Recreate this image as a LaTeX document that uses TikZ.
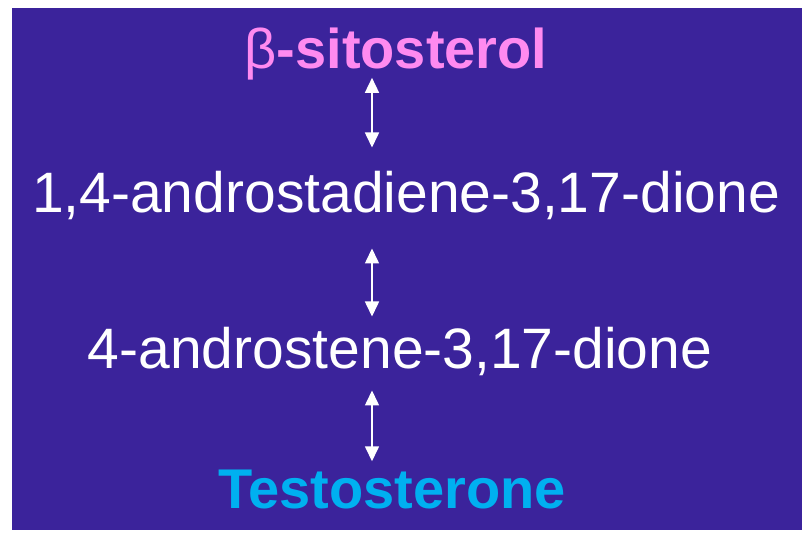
\documentclass[tikz,border=0pt]{standalone}
\usepackage{fontspec}
\setmainfont{Liberation Sans}
\usepackage{tikz}
\usetikzlibrary{arrows.meta,positioning}
\definecolor{slide}{RGB}{59,35,155}
\definecolor{sitopink}{RGB}{255,138,240}
\definecolor{testoblue}{RGB}{0,176,240}
\tikzset{
  cmpd/.style={inner sep=0pt, anchor=base, white, font=\fontsize{57}{60}\selectfont},
  key/.style={font=\fontsize{56}{60}\selectfont\bfseries},
  biarr/.style={white, line width=1.6pt, {Triangle[width=14pt,length=15pt]}-{Triangle[width=14pt,length=15pt]}}
}

\begin{document}
\begin{tikzpicture}[x=1pt,y=-1pt]
  \useasboundingbox (0,0) rectangle (812,538);
  \fill[slide] (12,8) rectangle (802,530);
  % compounds, top to bottom
  \node[cmpd,key,sitopink] (sito)  at (396,68)  {{\mdseries β}-sitosterol};
  \node[cmpd]              (adien) at (406,212) {1,4-androstadiene-3,17-dione};
  \node[cmpd]              (aene)  at (400,368) {4-androstene-3,17-dione};
  \node[cmpd,key,testoblue] (testo) at (392,508) {Testosterone};
  % arrows
  \coordinate (ax) at (372,0);
  \draw[biarr, shorten <=-2pt, shorten >=23pt] (sito.south -| ax) -- (adien.north -| ax);
  \draw[biarr, shorten <=29pt, shorten >=10pt] (adien.south -| ax) -- (aene.north -| ax);
  \draw[biarr, shorten <=15pt, shorten >=8pt] (aene.south -| ax) -- (testo.north -| ax);
\end{tikzpicture}
\end{document}
